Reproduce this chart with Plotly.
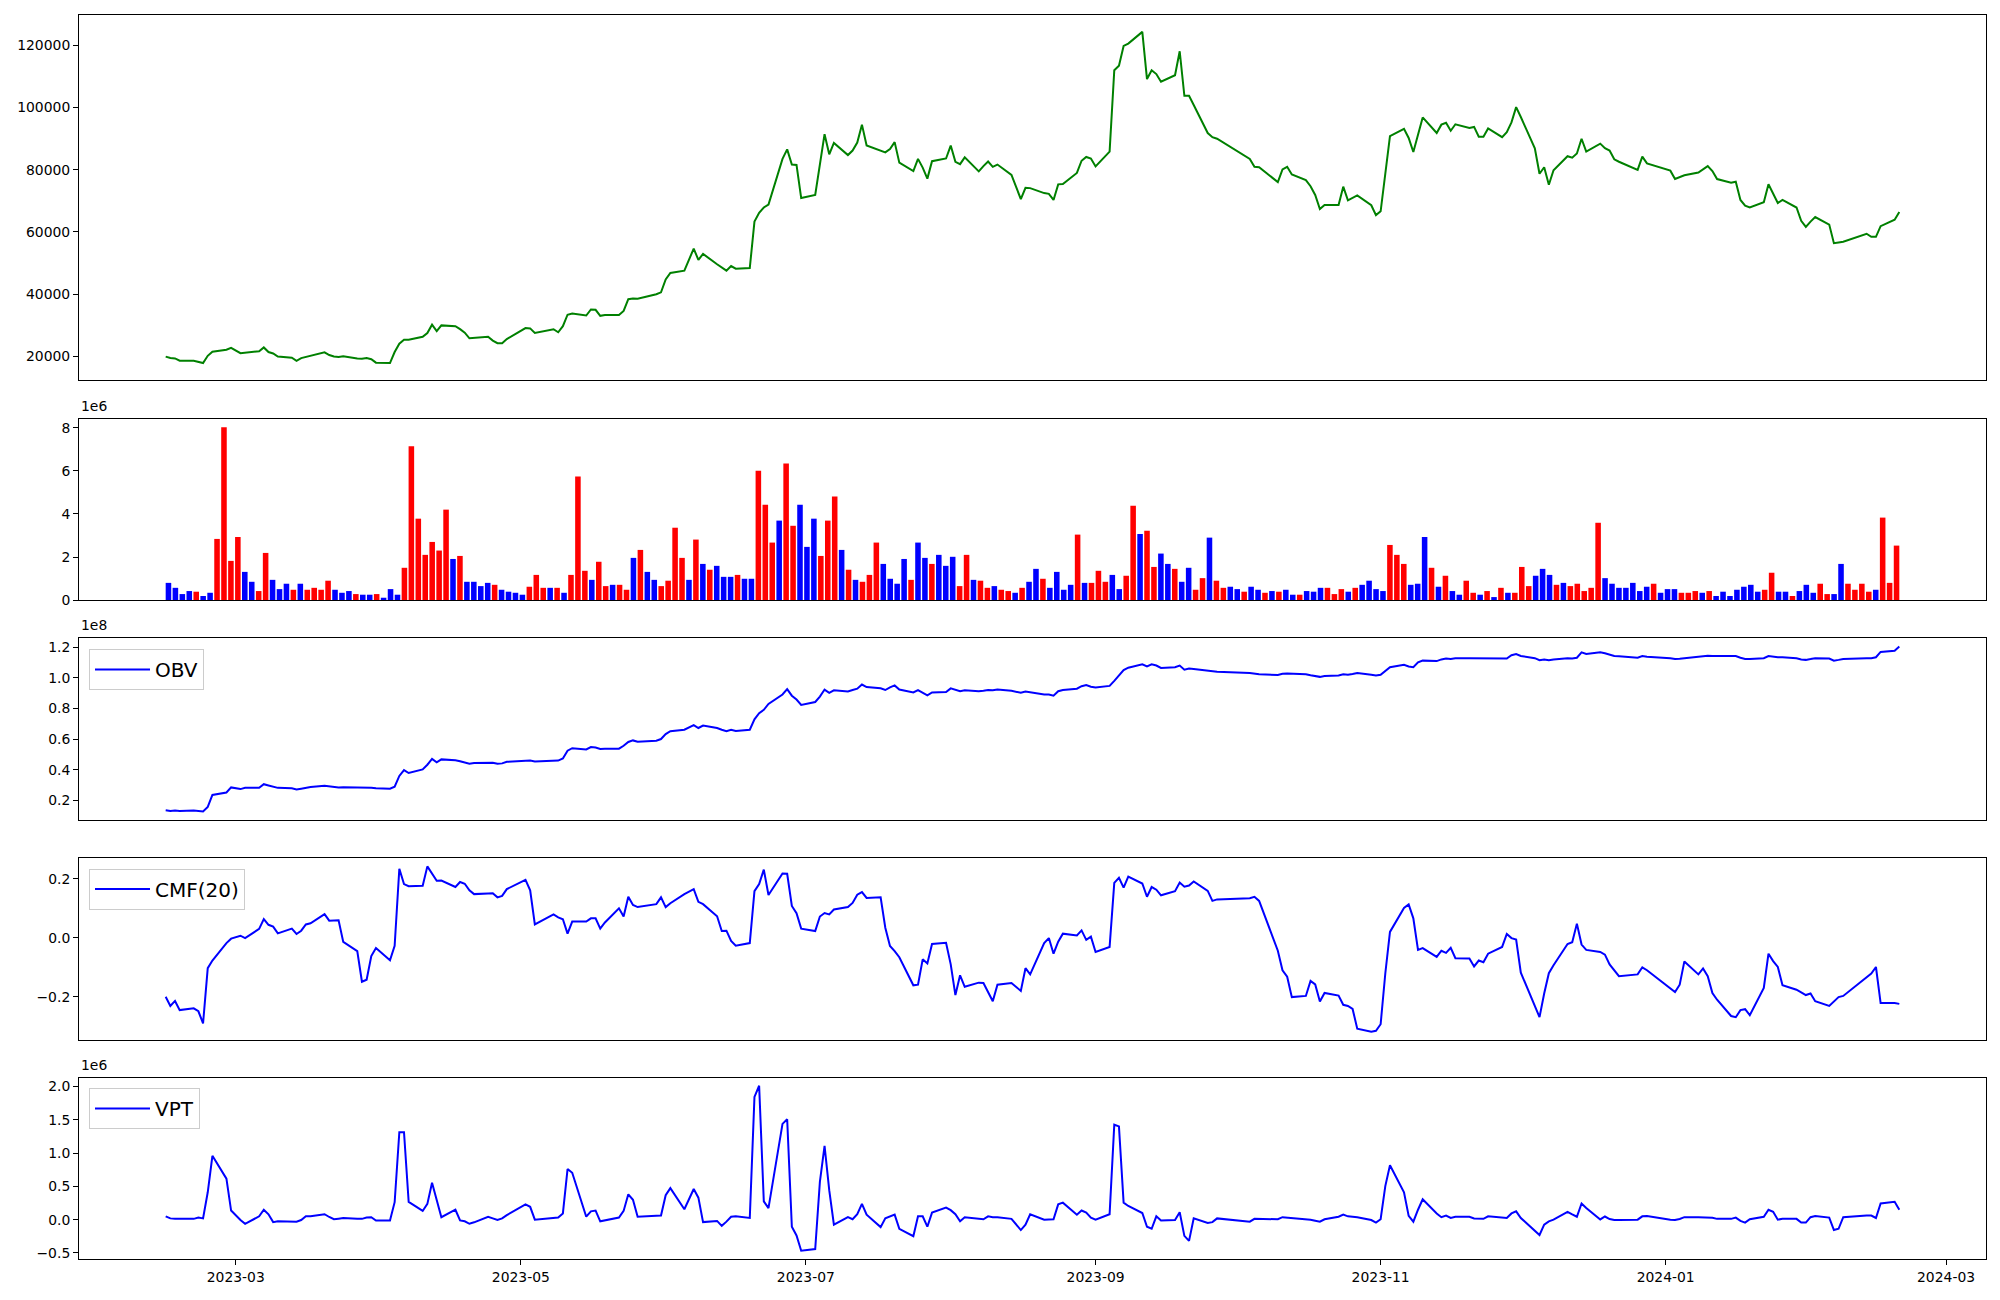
import pandas as pd
import plotly.graph_objects as go

# ---------------- data ----------------
krx_holidays = ["2023-03-01", "2023-05-01", "2023-05-05", "2023-05-29", "2023-06-06",
                "2023-08-15", "2023-09-28", "2023-09-29", "2023-10-02", "2023-10-03",
                "2023-10-09", "2023-12-25", "2023-12-29", "2024-01-01", "2024-02-09",
                "2024-02-12"]
dates = [d for d in pd.bdate_range("2023-02-14", "2024-02-20")
         if d.strftime("%Y-%m-%d") not in krx_holidays]

price = [
19960,19490,19360,18620,18620,18250,17890,20210,21550,22170,
22780,21070,21190,21680,22900,21430,20950,19970,19600,18620,
19480,19850,20210,21310,20460,19980,19850,20100,19360,19240,
19480,19110,18010,17890,21430,24120,25340,25340,26320,27540,
30220,28140,29980,29740,28760,27660,25830,25950,26330,25110,
24250,24250,25590,29130,29010,27540,28760,27780,29740,33400,
33770,33160,35110,34990,33040,33280,33280,34620,38410,38650,
38530,39990,40600,44760,46830,47570,54650,50990,52940,49630,
48530,47570,49030,48180,48420,63310,66120,67830,68800,83460,
86510,81630,81500,70880,71860,81630,91390,84920,88590,84680,
86140,88710,94450,87730,85900,85530,86630,88830,82240,79550,
83460,80650,77110,82720,83580,87730,82480,81750,83950,79430,
81140,82610,80900,81630,78330,70520,74180,74060,72470,72220,
70270,75270,75400,78940,82850,84070,83580,81020,85780,111910,
113380,119730,120460,124240,109090,111910,110690,108240,110320,118010,
103720,103720,100740,91750,90410,89920,83450,80890,80770,76000,
80040,80890,78450,76610,74660,71850,67330,68670,68670,74530,
70140,71000,71740,68570,65390,66610,78570,90780,93100,90170,
85650,90780,96760,91750,94440,95050,92490,94560,93340,93710,
90540,90540,93220,90410,92000,95170,100060,96890,86870,78690,
80770,75150,79790,84310,83820,85160,89920,85770,88340,86870,
86140,83330,82530,79910,84190,81990,79670,76980,77590,78200,
79060,80040,81130,79550,76980,75760,76130,70270,68440,67830,
69540,75280,72470,69300,70270,67830,63560,61600,63310,64780,
62340,56360,56600,56840,59400,58430,58430,61850,63930,66370]

volume_1e6 = [
0.80,0.57,0.28,0.42,0.39,0.19,0.34,2.84,8.02,1.82,
2.93,1.31,0.85,0.42,2.19,0.94,0.51,0.76,0.48,0.76,
0.48,0.57,0.48,0.90,0.48,0.34,0.42,0.28,0.25,0.25,
0.28,0.11,0.51,0.25,1.50,7.14,3.78,2.10,2.70,2.30,
4.20,1.91,2.05,0.85,0.85,0.65,0.80,0.71,0.48,0.39,
0.34,0.25,0.62,1.17,0.57,0.57,0.57,0.34,1.17,5.74,
1.36,0.94,1.78,0.65,0.71,0.71,0.48,1.96,2.33,1.31,
0.94,0.65,0.90,3.36,1.96,0.94,2.81,1.68,1.41,1.59,
1.08,1.08,1.17,0.99,0.99,6.01,4.43,2.67,3.69,6.34,
3.45,4.43,2.47,3.78,2.05,3.69,4.81,2.33,1.41,0.94,
0.85,1.17,2.67,1.68,0.99,0.76,1.91,0.94,2.67,1.96,
1.68,2.10,1.59,2.01,0.65,2.10,0.94,0.90,0.57,0.65,
0.48,0.42,0.34,0.57,0.85,1.45,0.99,0.57,1.31,0.48,
0.71,3.04,0.80,0.80,1.36,0.85,1.17,0.51,1.13,4.38,
3.07,3.22,1.54,2.16,1.68,1.45,0.85,1.50,0.48,1.02,
2.90,0.90,0.57,0.62,0.51,0.39,0.62,0.48,0.34,0.42,
0.39,0.48,0.25,0.25,0.42,0.39,0.57,0.57,0.28,0.51,
0.39,0.57,0.71,0.90,0.51,0.42,2.56,2.10,1.68,0.71,
0.76,2.93,1.50,0.62,1.13,0.42,0.25,0.90,0.34,0.25,
0.42,0.14,0.57,0.34,0.34,1.54,0.65,1.13,1.45,1.17,
0.71,0.80,0.65,0.76,0.42,0.57,3.59,1.02,0.76,0.57,
0.57,0.80,0.42,0.62,0.76,0.34,0.51,0.51,0.34,0.34,
0.42,0.34,0.42,0.19,0.39,0.19,0.48,0.62,0.71,0.39,
0.48,1.27,0.39,0.39,0.19,0.42,0.71,0.34,0.76,0.28,
0.28,1.68,0.76,0.48,0.76,0.39,0.48,3.83,0.80,2.53]

# r = red (up) bar, b = blue (down) bar
bar_dir = ("bbbbrbbrrr" "rbbrrbbbrb" "rrrrbbbrbb" "rbbbrrrrrr" "rbrbbbbrbb"
           "bbrrrbrbrr" "rbrrbrrbrb" "brrrrbrbrb" "bbrbbrrrbr" "rbbbrrrbrb"
           "rrrbbbbrbb" "rbbbrrbrrb" "rrbrbbrbbb" "brbrrrbbrr" "brrbbrbbrr"
           "brrbbrbbrb" "rbbrbbbrrr" "brbbbbrrrb" "bbrbrbbrrb" "rbrbrrrbbb"
           "rbrrrrrbbb" "bbbbrbbbrr" "rbrbbbbbbb" "rrbbrbbbrr" "bbrrrrbrrr")

obv_1e8 = [
0.135,0.130,0.133,0.130,0.133,0.130,0.127,0.157,0.235,0.251,
0.284,0.273,0.281,0.281,0.305,0.297,0.290,0.281,0.278,0.270,
0.275,0.280,0.286,0.295,0.290,0.287,0.284,0.285,0.284,0.282,
0.284,0.282,0.278,0.276,0.289,0.359,0.397,0.378,0.402,0.432,
0.470,0.448,0.467,0.462,0.455,0.447,0.438,0.443,0.446,0.445,
0.438,0.441,0.451,0.462,0.460,0.454,0.459,0.459,0.473,0.524,
0.540,0.532,0.548,0.545,0.535,0.537,0.537,0.556,0.581,0.591,
0.583,0.589,0.600,0.632,0.651,0.661,0.691,0.672,0.688,0.672,
0.661,0.651,0.661,0.653,0.661,0.729,0.769,0.791,0.829,0.891,
0.926,0.883,0.858,0.823,0.842,0.877,0.923,0.902,0.918,0.910,
0.920,0.929,0.956,0.939,0.931,0.920,0.937,0.950,0.923,0.904,
0.920,0.902,0.885,0.904,0.907,0.931,0.923,0.912,0.918,0.912,
0.915,0.920,0.918,0.923,0.915,0.902,0.910,0.905,0.891,0.891,
0.883,0.912,0.920,0.929,0.945,0.953,0.942,0.937,0.947,0.980,
1.012,1.050,1.066,1.088,1.074,1.088,1.080,1.064,1.069,1.080,
1.053,1.061,1.058,1.047,1.039,1.039,1.031,1.026,1.023,1.018,
1.026,1.028,1.026,1.023,1.016,1.010,1.006,1.012,1.015,1.023,
1.020,1.025,1.031,1.020,1.015,1.020,1.045,1.069,1.085,1.074,
1.069,1.101,1.112,1.109,1.120,1.126,1.123,1.128,1.128,1.128,
1.126,1.126,1.128,1.128,1.126,1.147,1.155,1.142,1.128,1.115,
1.120,1.115,1.120,1.128,1.126,1.131,1.166,1.155,1.166,1.160,
1.151,1.142,1.140,1.131,1.142,1.137,1.128,1.123,1.125,1.128,
1.134,1.140,1.144,1.142,1.142,1.139,1.142,1.131,1.123,1.123,
1.128,1.142,1.137,1.134,1.134,1.128,1.120,1.117,1.122,1.128,
1.126,1.112,1.117,1.123,1.128,1.128,1.134,1.169,1.177,1.204]

cmf20 = [
-0.200,-0.231,-0.214,-0.245,-0.239,-0.249,-0.290,-0.103,-0.077,-0.018,
-0.003,0.007,-0.001,0.030,0.063,0.044,0.038,0.015,0.031,0.013,
0.024,0.045,0.049,0.080,0.058,0.058,0.059,-0.014,-0.045,-0.149,
-0.142,-0.062,-0.035,-0.076,-0.027,0.234,0.182,0.175,0.176,0.242,
0.217,0.193,0.194,0.172,0.189,0.183,0.161,0.148,0.150,0.151,
0.137,0.142,0.165,0.196,0.161,0.045,0.079,0.069,0.063,0.014,
0.055,0.055,0.066,0.066,0.031,0.052,0.100,0.072,0.139,0.111,
0.104,0.114,0.137,0.104,0.117,0.148,0.165,0.122,0.114,0.073,
0.023,0.024,-0.011,-0.027,-0.018,0.158,0.182,0.231,0.145,0.218,
0.217,0.108,0.083,0.031,0.023,0.072,0.084,0.079,0.096,0.104,
0.118,0.146,0.155,0.135,0.137,0.034,-0.028,-0.045,-0.066,-0.161,
-0.159,-0.073,-0.087,-0.021,-0.017,-0.090,-0.194,-0.127,-0.166,-0.152,
-0.153,-0.184,-0.215,-0.159,-0.153,-0.180,-0.103,-0.124,-0.018,-0.001,
-0.054,-0.013,0.014,0.008,0.025,-0.007,0.004,-0.048,-0.031,0.186,
0.203,0.170,0.207,0.184,0.139,0.172,0.163,0.144,0.158,0.187,
0.173,0.177,0.191,0.159,0.125,0.130,0.134,0.139,0.125,-0.044,
-0.110,-0.132,-0.201,-0.197,-0.146,-0.158,-0.216,-0.187,-0.196,-0.227,
-0.231,-0.241,-0.308,-0.318,-0.315,-0.293,-0.121,0.020,0.101,0.113,
0.066,-0.041,-0.035,-0.065,-0.044,-0.051,-0.034,-0.069,-0.070,-0.097,
-0.077,-0.083,-0.054,-0.031,0.013,-0.001,-0.006,-0.118,-0.234,-0.269,
-0.189,-0.120,-0.093,-0.021,-0.015,0.048,-0.023,-0.041,-0.048,-0.057,
-0.090,-0.111,-0.130,-0.124,-0.100,-0.110,-0.173,-0.184,-0.159,-0.080,
-0.124,-0.104,-0.130,-0.187,-0.210,-0.265,-0.269,-0.245,-0.242,-0.262,
-0.170,-0.054,-0.079,-0.099,-0.161,-0.176,-0.185,-0.194,-0.189,-0.215,
-0.231,-0.215,-0.201,-0.197,-0.135,-0.121,-0.099,-0.221,-0.221,-0.224]

vpt_1e6 = [
0.050,0.019,0.012,0.012,0.012,0.031,0.019,0.411,0.959,0.616,
0.137,-0.006,-0.062,0.050,0.149,0.081,-0.037,-0.025,-0.028,-0.031,
-0.006,0.050,0.050,0.081,0.040,0.006,0.015,0.025,0.015,0.012,
0.031,0.037,-0.012,-0.012,0.262,1.314,1.314,0.268,0.131,0.237,
0.554,0.299,0.037,0.149,-0.012,-0.025,-0.062,-0.040,0.044,0.020,
-0.006,0.019,0.068,0.230,0.193,0.000,0.031,0.031,0.093,0.760,
0.704,0.044,0.125,0.137,-0.025,-0.010,0.031,0.131,0.380,0.299,
0.044,0.060,0.062,0.367,0.473,0.156,0.461,0.330,-0.037,-0.019,
-0.093,-0.030,0.044,0.050,0.025,1.843,2.011,0.274,0.174,1.438,
1.507,-0.106,-0.237,-0.467,-0.442,0.567,1.108,0.442,-0.075,0.037,
0.006,0.081,0.237,0.075,-0.112,0.019,0.050,0.075,-0.137,-0.249,
0.050,0.050,-0.106,0.106,0.181,0.143,0.081,-0.025,0.037,0.006,
0.006,0.050,0.037,0.037,0.012,-0.156,-0.075,0.081,0.000,0.003,
0.006,0.230,0.255,0.075,0.137,0.106,0.031,0.000,0.081,1.426,
1.401,0.255,0.205,0.100,-0.106,-0.137,0.050,-0.012,-0.006,0.112,
-0.243,-0.318,0.019,-0.050,-0.037,0.019,-0.031,0.012,0.012,0.006,
0.037,0.031,0.020,0.012,0.000,-0.015,-0.031,0.006,0.044,0.075,
0.050,0.044,0.037,-0.006,-0.044,0.006,0.504,0.816,0.411,0.056,
-0.031,0.149,0.305,0.093,0.037,0.062,0.025,0.044,0.044,0.019,
0.015,0.012,0.050,0.030,0.025,0.093,0.125,0.025,-0.174,-0.230,
-0.075,-0.025,0.000,0.118,0.080,0.044,0.243,0.174,0.003,0.047,
0.009,-0.006,-0.005,0.000,0.050,0.056,0.000,-0.006,0.010,0.037,
0.037,0.037,0.037,0.030,0.012,0.012,0.031,-0.019,-0.044,0.006,
0.044,0.149,0.118,0.000,0.012,0.012,-0.044,-0.044,0.037,0.056,
0.031,-0.156,-0.137,0.037,0.062,0.062,0.025,0.243,0.268,0.149]

x_tick_dates = ["2023-03-01", "2023-05-01", "2023-07-01", "2023-09-01",
                "2023-11-01", "2024-01-01", "2024-03-01"]
x_tick_text = ["2023-03", "2023-05", "2023-07", "2023-09", "2023-11", "2024-01", "2024-03"]

# ---------------- layout helpers ----------------
# the page body has an 8 px default margin, so the figure is drawn 8 px in from the window corner
OFF = 8
WIN_W, WIN_H = 2000, 1300
FIG_W, FIG_H = WIN_W - OFF, WIN_H - OFF
AREA_L, AREA_R, AREA_T, AREA_B = 79, 1986, 15, 1259      # plot area in window px
ML, MR = AREA_L - OFF, FIG_W - (AREA_R - OFF)
MT, MB = AREA_T - OFF, FIG_H - (AREA_B - OFF)
PLOT_H = AREA_B - AREA_T
PLOT_W = AREA_R - AREA_L


def ydom(top_px, bot_px):
    lo = (AREA_B - bot_px) / PLOT_H
    hi = (AREA_B - top_px) / PLOT_H
    return [max(0.0, min(1.0, lo)), max(0.0, min(1.0, hi))]


def pad_range(vals, frac=0.05):
    lo, hi = min(vals), max(vals)
    p = (hi - lo) * frac
    return [lo - p, hi + p]


n = len(dates)
span = dates[-1] - dates[0]
date_range = [dates[0] - span * 0.05, dates[-1] + span * 0.05]
bar_lo, bar_hi = -0.4, n - 1 + 0.4
bar_pad = (bar_hi - bar_lo) * 0.05
bar_range = [bar_lo - bar_pad, bar_hi + bar_pad]

FONT = "DejaVu Sans"
TICKF = dict(family=FONT, size=13.9, color="black")

doms = {
    "price": ydom(15.3, 379.6),
    "vol": ydom(418.7, 600.1),
    "obv": ydom(638.3, 819.7),
    "cmf": ydom(858.1, 1039.9),
    "vpt": ydom(1077.5, 1259.0),
}

bar_colors = ["#ff0000" if c == "r" else "#0000ff" for c in bar_dir]

fig = go.Figure()
fig.add_trace(go.Scatter(x=dates, y=price, mode="lines", line=dict(color="#008000", width=2),
                         showlegend=False, xaxis="x", yaxis="y"))
fig.add_trace(go.Bar(x=list(range(n)), y=volume_1e6, width=0.8, marker=dict(color=bar_colors, line=dict(width=0)),
                     showlegend=False, xaxis="x2", yaxis="y2"))
fig.add_trace(go.Scatter(x=dates, y=obv_1e8, mode="lines", name="OBV", line=dict(color="#0000ff", width=2),
                         xaxis="x3", yaxis="y3", legend="legend"))
fig.add_trace(go.Scatter(x=dates, y=cmf20, mode="lines", name="CMF(20)", line=dict(color="#0000ff", width=2),
                         xaxis="x4", yaxis="y4", legend="legend2"))
fig.add_trace(go.Scatter(x=dates, y=vpt_1e6, mode="lines", name="VPT", line=dict(color="#0000ff", width=2),
                         xaxis="x5", yaxis="y5", legend="legend3"))

axis_common = dict(showline=True, mirror=True, linecolor="black", linewidth=1,
                   showgrid=False, zeroline=False, tickfont=TICKF, automargin=False)
yax_common = dict(axis_common, ticks="outside", ticklen=5, tickwidth=1, tickcolor="black")
xhide = dict(axis_common, ticks="", showticklabels=False)


def fmt(v, d):
    s = f"{abs(v):.{d}f}"
    return ("\u2212" + s) if v < 0 else s


price_ticks = [20000, 40000, 60000, 80000, 100000, 120000]
vol_ticks = [0, 2, 4, 6, 8]
obv_ticks = [0.2, 0.4, 0.6, 0.8, 1.0, 1.2]
cmf_ticks = [-0.2, 0.0, 0.2]
vpt_ticks = [-0.5, 0.0, 0.5, 1.0, 1.5, 2.0]

vol_range = [0, max(volume_1e6) * 1.05]

fig.update_layout(
    width=FIG_W, height=FIG_H,
    margin=dict(l=ML, r=MR, t=MT, b=MB, autoexpand=False),
    paper_bgcolor="white", plot_bgcolor="white",
    font=dict(family=FONT, size=13.9, color="black"),
    hovermode=False,
    xaxis=dict(xhide, domain=[0, 1], type="date", range=date_range, anchor="y"),
    xaxis2=dict(xhide, domain=[0, 1], range=bar_range, anchor="y2"),
    xaxis3=dict(xhide, domain=[0, 1], type="date", range=date_range, anchor="y3"),
    xaxis4=dict(xhide, domain=[0, 1], type="date", range=date_range, anchor="y4"),
    xaxis5=dict(axis_common, domain=[0, 1], type="date", range=date_range, anchor="y5",
                ticks="outside", ticklen=5, tickwidth=1, tickcolor="black",
                tickvals=x_tick_dates, ticktext=x_tick_text),
    yaxis=dict(yax_common, domain=doms["price"], range=pad_range(price), anchor="x",
               tickvals=price_ticks, ticktext=[str(v) for v in price_ticks]),
    yaxis2=dict(yax_common, domain=doms["vol"], range=vol_range, anchor="x2",
                tickvals=vol_ticks, ticktext=[str(v) for v in vol_ticks]),
    yaxis3=dict(yax_common, domain=doms["obv"], range=pad_range(obv_1e8), anchor="x3",
                tickvals=obv_ticks, ticktext=[fmt(v, 1) for v in obv_ticks]),
    yaxis4=dict(yax_common, domain=doms["cmf"], range=pad_range(cmf20), anchor="x4",
                tickvals=cmf_ticks, ticktext=[fmt(v, 1) for v in cmf_ticks]),
    yaxis5=dict(yax_common, domain=doms["vpt"], range=pad_range(vpt_1e6), anchor="x5",
                tickvals=vpt_ticks, ticktext=[fmt(v, 1) for v in vpt_ticks]),
)

leg_common = dict(font=dict(family=FONT, size=20, color="black"), bgcolor="rgba(255,255,255,0.8)",
                  bordercolor="#cccccc", borderwidth=1, xanchor="left", yanchor="top",
                  itemwidth=55, tracegroupgap=0)
lx = (89 - AREA_L) / PLOT_W
fig.update_layout(
    legend=dict(leg_common, x=lx, y=(AREA_B - 649) / PLOT_H),
    legend2=dict(leg_common, x=lx, y=(AREA_B - 868.6) / PLOT_H),
    legend3=dict(leg_common, x=lx, y=(AREA_B - 1088) / PLOT_H),
)

for label, key in [("1e6", "vol"), ("1e8", "obv"), ("1e6", "vpt")]:
    fig.add_annotation(text=label, xref="paper", yref="paper", x=0, y=doms[key][1],
                       xanchor="left", yanchor="bottom", yshift=3, showarrow=False,
                       font=dict(family=FONT, size=13.9, color="black"))

fig.write_html("out.html")
